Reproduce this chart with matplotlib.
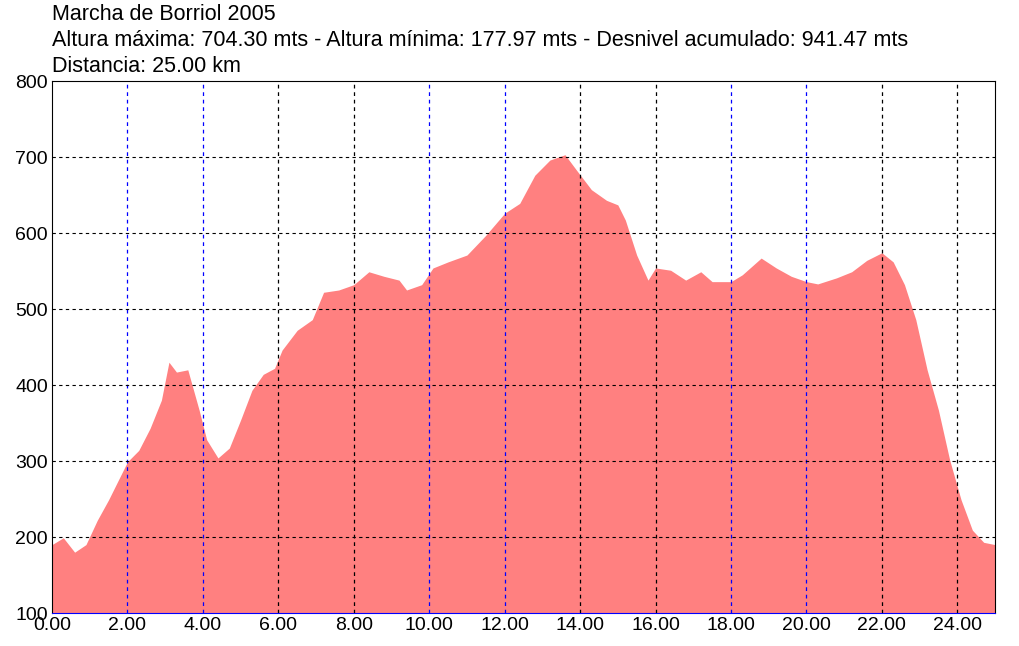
import matplotlib
matplotlib.use("Agg")
import matplotlib.pyplot as plt

dist = [0,0.3,0.6,0.9,1.2,1.5,2.0,2.3,2.6,2.9,3.1,3.3,3.6,3.9,4.1,4.4,4.7,5.0,5.3,5.6,5.9,6.1,6.5,6.9,7.2,7.6,8.0,8.4,8.8,9.2,9.4,9.8,10.1,10.5,11.0,11.5,12.0,12.4,12.8,13.2,13.6,13.9,14.3,14.7,15.0,15.2,15.5,15.8,16.0,16.4,16.8,17.2,17.5,18.0,18.3,18.8,19.2,19.6,20.0,20.3,20.8,21.2,21.6,22.0,22.3,22.6,22.9,23.2,23.5,23.8,24.1,24.4,24.7,25.0]
elev = [190,199,180,190,222,249,299,314,343,380,430,417,420,367,328,304,317,354,393,414,422,446,472,486,522,525,532,549,543,538,525,532,554,562,571,597,626,639,676,696,703,683,657,643,637,617,571,538,554,551,538,549,536,536,545,567,554,543,536,533,541,549,564,574,562,532,486,420,367,301,249,209,193,190]
xticks = [0,2,4,6,8,10,12,14,16,18,20,22,24]
yticks = [100,200,300,400,500,600,700,800]
blue_x = [2,4,10,12,18,20]

plt.rcParams['font.family'] = ['Liberation Sans', 'DejaVu Sans']
fig = plt.figure(figsize=(10.2, 6.46), dpi=100)
ax = fig.add_axes([52/1020, 1-613/646, 943/1020, 532/646])
ax.fill_between(dist, elev, 100, color='#ff8080', lw=0)
ax.set_xlim(0, 25); ax.set_ylim(100, 800)
for x in xticks[1:]:
    ax.axvline(x, color='#0000ff' if x in blue_x else 'black', lw=0.9, ls=(0, (3, 3)), zorder=3)
for y in yticks[1:-1]:
    ax.axhline(y, color='black', lw=0.8, ls=(0, (3, 3)), zorder=3)
ax.set_xticks(xticks, [f"{v:.2f}" for v in xticks])
ax.set_yticks(yticks, [str(v) for v in yticks])
ax.tick_params(length=0, labelsize=14, pad=3)
ax.spines['bottom'].set_color('blue')
fs = 15.5
fig.text(52/1020, 1-14/646, "Marcha de Borriol 2005", fontsize=fs, va='center')
fig.text(52/1020, 1-41/646, "Altura máxima: 704.30 mts - Altura mínima: 177.97 mts - Desnivel acumulado: 941.47 mts", fontsize=fs, va='center')
fig.text(52/1020, 1-67/646, "Distancia: 25.00 km", fontsize=fs, va='center')
fig.savefig("out.png", dpi=100)
